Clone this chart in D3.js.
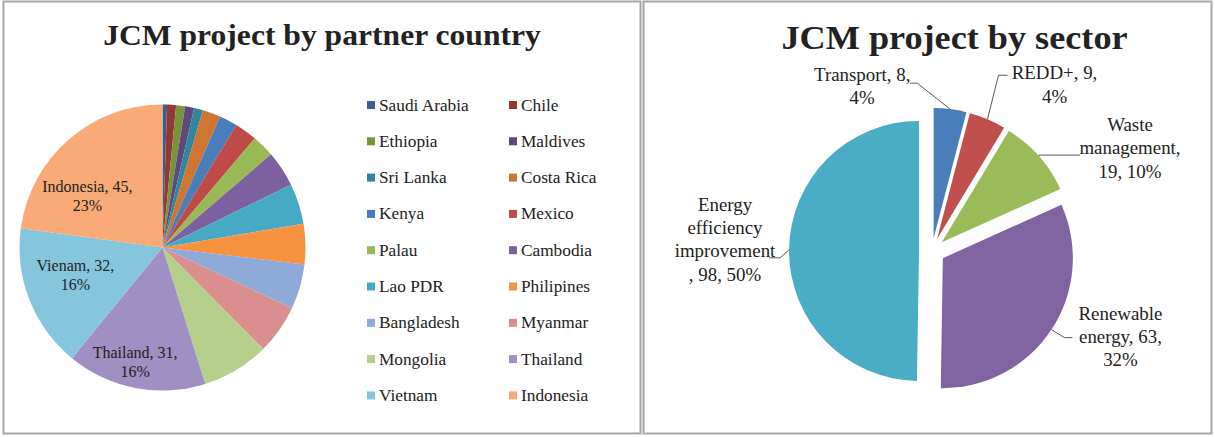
<!DOCTYPE html>
<html>
<head>
<meta charset="utf-8">
<script src="https://cdn.jsdelivr.net/npm/d3@7"></script>
<style>
    body { margin: 0; background: #fff; }
    text { font-family: "Liberation Serif", "Times New Roman", serif; fill: #222; }
</style>
</head>
<body>
<div id="chart"></div>
<script>
// ---- data ----
var countries = ["Saudi Arabia", "Chile", "Ethiopia", "Maldives", "Sri Lanka", "Costa Rica",
    "Kenya", "Mexico", "Palau", "Cambodia", "Lao PDR", "Philipines",
    "Bangladesh", "Myanmar", "Mongolia", "Thailand", "Vietnam", "Indonesia"];
var countryValues = [1, 2, 2, 2, 2, 4, 4, 5, 5, 8, 9, 9, 10, 11, 15, 31, 32, 45];
var countryColors = ["#3a5f8b", "#953735", "#77933c", "#5f497a", "#31859c", "#cf7532",
    "#4a7ebb", "#be4b48", "#98b954", "#7d60a0", "#46aac5", "#f69240",
    "#8eaad8", "#d98f8d", "#b7cf8c", "#9f8fc2", "#86c6dd", "#f9aa77"];
// only the three big slices carry a label
var countryLabelNames = { "Indonesia": "Indonesia", "Vietnam": "Vienam", "Thailand": "Thailand" };
var countryPct = { "Indonesia": 23, "Vietnam": 16, "Thailand": 16 };

var sectors = ["Transport", "REDD+", "Waste management", "Renewable energy", "Energy efficiency improvement"];
var sectorValues = [8, 9, 19, 63, 98];
var sectorPct = [4, 4, 10, 32, 50];
var sectorColors = ["#4a7ebb", "#c0504d", "#9bbb59", "#8064a2", "#4bacc6"];

var FONT = "'Liberation Serif', 'Times New Roman', serif";

var svg = d3.select("#chart").append("svg")
    .attr("width", 1215)
    .attr("height", 437);

// helper: text slightly stretched horizontally like the source image
function addText(g, x, y, str, size, k, weight) {
    return g.append("text")
        .attr("transform", "translate(" + x + "," + y + ") scale(" + k + ",1)")
        .attr("text-anchor", "middle")
        .attr("font-family", FONT)
        .style("font-size", size + "px")
        .style("font-weight", weight || "normal")
        .text(str);
}

// panel frames
svg.append("rect").attr("x", 3.5).attr("y", 1.5).attr("width", 637).attr("height", 432)
    .attr("fill", "#fff").attr("stroke", "#a6a6a6").attr("stroke-width", 2);
svg.append("rect").attr("x", 643.5).attr("y", 1.5).attr("width", 568).attr("height", 432)
    .attr("fill", "#fff").attr("stroke", "#a6a6a6").attr("stroke-width", 2);

//-------- left: by partner country --------
var left = svg.append("g");
addText(left, 322, 45, "JCM project by partner country", 29, 1.09, "bold");

var r1 = 143;
var pieL = left.append("g").attr("transform", "translate(162.5,247.5)");
var pie = d3.pie().sort(null).value(function (d) { return d.value; });
var countryData = countries.map(function (c, i) {
    return { name: c, value: countryValues[i], color: countryColors[i] };
});
var arcL = d3.arc().innerRadius(0).outerRadius(r1);

pieL.selectAll("path")
    .data(pie(countryData))
    .enter().append("path")
    .attr("d", arcL)
    .attr("fill", function (d) { return d.data.color; });

// labels sit inside the slice, nudged the way excel placed them
var labelArcL = d3.arc().innerRadius(r1 * 0.64).outerRadius(r1 * 0.64);
var nudge = { "Indonesia": [-15, 17], "Vietnam": [-2, -6], "Thailand": [-10, 25] };
pie(countryData).forEach(function (d) {
    if (!countryLabelNames[d.data.name]) return;
    var c = labelArcL.centroid(d);
    var x = c[0] + nudge[d.data.name][0], y = c[1] + nudge[d.data.name][1];
    addText(pieL, x, y - 4, countryLabelNames[d.data.name] + ", " + d.data.value + ",", 16, 1.0);
    addText(pieL, x, y + 15, countryPct[d.data.name] + "%", 16, 1.0);
});

// legend, two columns
var legend = left.append("g");
countryData.forEach(function (d, i) {
    var col = i % 2, row = Math.floor(i / 2);
    var x = col === 0 ? 367 : 509;
    var y = 105 + row * 36.3;
    legend.append("rect").attr("x", x).attr("y", y - 4).attr("width", 8).attr("height", 8)
        .attr("fill", d.color);
    legend.append("text")
        .attr("transform", "translate(" + (x + 12) + "," + (y + 5.5) + ") scale(1.08,1)")
        .attr("font-family", FONT)
        .style("font-size", "16px")
        .text(d.name);
});

//-------- right: by sector (exploded pie) --------
var right = svg.append("g");
addText(right, 954.5, 49, "JCM project by sector", 34, 1.065, "bold");

var r2 = 130, explode = 13;
var pieR = right.append("g").attr("transform", "translate(932,251)");
var sectorData = sectors.map(function (s, i) {
    return { name: s, value: sectorValues[i], pct: sectorPct[i], color: sectorColors[i] };
});
var arcR = d3.arc().innerRadius(0).outerRadius(r2);
var edgeArc = d3.arc().innerRadius(r2).outerRadius(r2);

function shift(d) {
    var a = (d.startAngle + d.endAngle) / 2;
    return [explode * Math.sin(a), -explode * Math.cos(a)];
}

pieR.selectAll("path")
    .data(pie(sectorData))
    .enter().append("path")
    .attr("transform", function (d) { var s = shift(d); return "translate(" + s[0] + "," + s[1] + ")"; })
    .attr("d", arcR)
    .attr("fill", function (d) { return d.data.color; });

// label text lines as excel wrapped them
var sectorLines = [
    function (d) { return ["Transport, " + d.value + ",", d.pct + "%"]; },
    function (d) { return ["REDD+, " + d.value + ",", d.pct + "%"]; },
    function (d) { return ["Waste", "management,", d.value + ", " + d.pct + "%"]; },
    function (d) { return ["Renewable", "energy, " + d.value + ",", d.pct + "%"]; },
    function (d) { return ["Energy", "efficiency", "improvement", ", " + d.value + ", " + d.pct + "%"]; }
];
// label block position relative to the slice edge point, and leader elbow
var labelPos = [
    { dx: -88, dy: -34, elbow: [[-33, -26], [-40, -26]] },
    { dx: 67, dy: -46, elbow: [[11, -44], [20, -44]] },
    { dx: 91, dy: -31, elbow: [[0, -1], [41, -1]] },
    { dx: 69, dy: -16, elbow: [[13, 8], [21, 8]] },
    { dx: -64, dy: -45, elbow: [[-9, 8], [-20, 8]] }
];

pie(sectorData).forEach(function (d, i) {
    var s = shift(d);
    var e = edgeArc.centroid(d);
    var px = e[0] + s[0], py = e[1] + s[1];
    var lp = labelPos[i];
    var pts = [[px, py]].concat(lp.elbow.map(function (p) { return [px + p[0], py + p[1]]; }));
    pieR.append("path")
        .attr("d", d3.line()(pts))
        .attr("fill", "none")
        .attr("stroke", "#595959")
        .attr("stroke-width", 1);
    var lines = sectorLines[i](d.data);
    lines.forEach(function (t, j) {
        addText(pieR, px + lp.dx, py + lp.dy + 6 + j * 23.3, t, 18, 1.05);
    });
});
</script>
</body>
</html>
